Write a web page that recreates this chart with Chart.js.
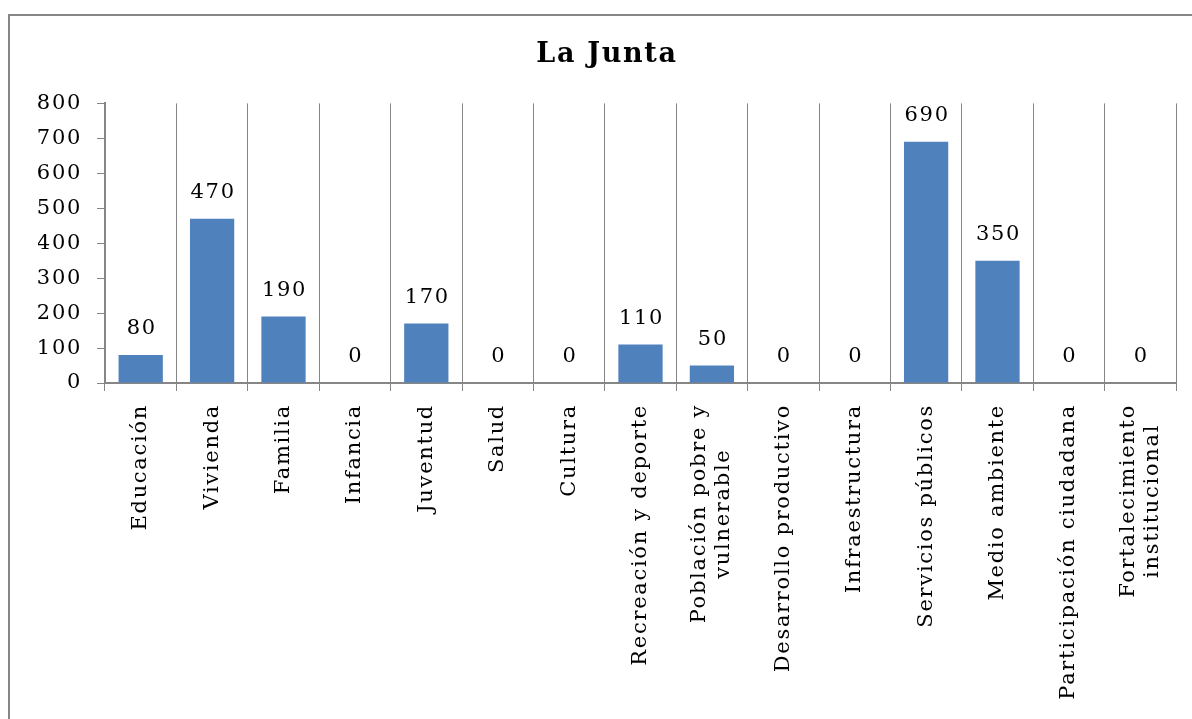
<!DOCTYPE html>
<html>
<head>
<meta charset="utf-8">
<script src="https://cdn.jsdelivr.net/npm/chart.js@4/dist/chart.umd.min.js"></script>
<style>
  html, body { margin: 0; padding: 0; background: #fff; overflow: hidden; }
  #frame {
    position: absolute; left: 8px; top: 14px;
    width: 1200px; height: 703px;
    border: 2px solid #868686;
  }
</style>
</head>
<body>
<div id="frame"><canvas id="chart" width="1200" height="703"></canvas></div>
<script>
// Categories (multi-line ones as arrays) and values
const categories = [
  "Educación", "Vivienda", "Familia", "Infancia", "Juventud", "Salud", "Cultura",
  "Recreación y deporte", ["Población pobre y", "vulnerable"], "Desarrollo productivo",
  "Infraestructura", "Servicios públicos", "Medio ambiente", "Participación ciudadana",
  ["Fortalecimiento", "institucional"]
];
const values = [80, 470, 190, 0, 170, 0, 0, 110, 50, 0, 0, 690, 350, 0, 0];
const yTicks = [0, 100, 200, 300, 400, 500, 600, 700, 800];

const FONT = "DejaVu Serif";
const GRID = "#868686";
const SPACING = "1.7px";

// Wider letter spacing for every text drawn on the canvas
const spacing = {
  id: "spacing",
  beforeDraw(chart) { chart.ctx.letterSpacing = SPACING; }
};

// Value labels above every bar
const valueLabels = {
  id: "valueLabels",
  afterDatasetsDraw(chart) {
    const ctx = chart.ctx;
    const meta = chart.getDatasetMeta(0);
    ctx.save();
    ctx.letterSpacing = SPACING;
    ctx.font = "21px '" + FONT + "'";
    ctx.fillStyle = "#000";
    ctx.textAlign = "center";
    ctx.textBaseline = "middle";
    meta.data.forEach((bar, i) => {
      ctx.fillText(String(values[i]), bar.x + 1, bar.y - 26);
    });
    ctx.restore();
  }
};

// Rotated category labels, extra lines centred on the longest one
const categoryLabels = {
  id: "categoryLabels",
  afterDraw(chart) {
    const ctx = chart.ctx;
    const xs = chart.scales.x;
    const lineH = 24;
    ctx.save();
    ctx.letterSpacing = SPACING;
    ctx.font = "21px '" + FONT + "'";
    ctx.fillStyle = "#000";
    ctx.textBaseline = "middle";
    ctx.textAlign = "center";
    categories.forEach((lab, i) => {
      const lines = Array.isArray(lab) ? lab : [lab];
      const maxW = Math.max(...lines.map(l => ctx.measureText(l).width));
      ctx.save();
      ctx.translate(xs.getPixelForTick(i), xs.top + 21);
      ctx.rotate(-Math.PI / 2);
      lines.forEach((l, j) => {
        ctx.fillText(l, -maxW / 2, (j - (lines.length - 1) / 2) * lineH);
      });
      ctx.restore();
    });
    ctx.restore();
  }
};

const ctx = document.getElementById("chart").getContext("2d");
new Chart(ctx, {
  type: "bar",
  data: {
    labels: categories,
    datasets: [{
      data: values,
      backgroundColor: "#4F81BD",
      borderWidth: 0,
      categoryPercentage: 0.62,
      barPercentage: 1
    }]
  },
  options: {
    responsive: false,
    animation: false,
    layout: { padding: { left: 28, right: 34, top: 0, bottom: 0 } },
    plugins: {
      legend: { display: false },
      tooltip: { enabled: false },
      title: {
        display: true,
        text: "La Junta",
        color: "#000",
        font: { family: FONT, size: 27, weight: "bold", lineHeight: 1.2 },
        padding: { top: 23, bottom: 32 }
      }
    },
    scales: {
      x: {
        afterFit(scale) { scale.height = 336; },
        grid: {
          offset: true,
          color: GRID,
          lineWidth: 1,
          tickLength: 8,
          drawTicks: true
        },
        border: { color: GRID, width: 2 },
        ticks: { display: false }
      },
      y: {
        min: 0,
        max: 800,
        afterFit(scale) { scale.width = 67; },
        afterBuildTicks(scale) { scale.ticks = yTicks.map(v => ({ value: v })); },
        grid: {
          drawOnChartArea: false,
          drawTicks: true,
          tickLength: 8,
          color: GRID
        },
        border: { color: GRID, width: 2 },
        ticks: {
          color: "#000",
          padding: 15,
          font: { family: FONT, size: 21 }
        }
      }
    }
  },
  plugins: [spacing, valueLabels, categoryLabels]
});
</script>
</body>
</html>
